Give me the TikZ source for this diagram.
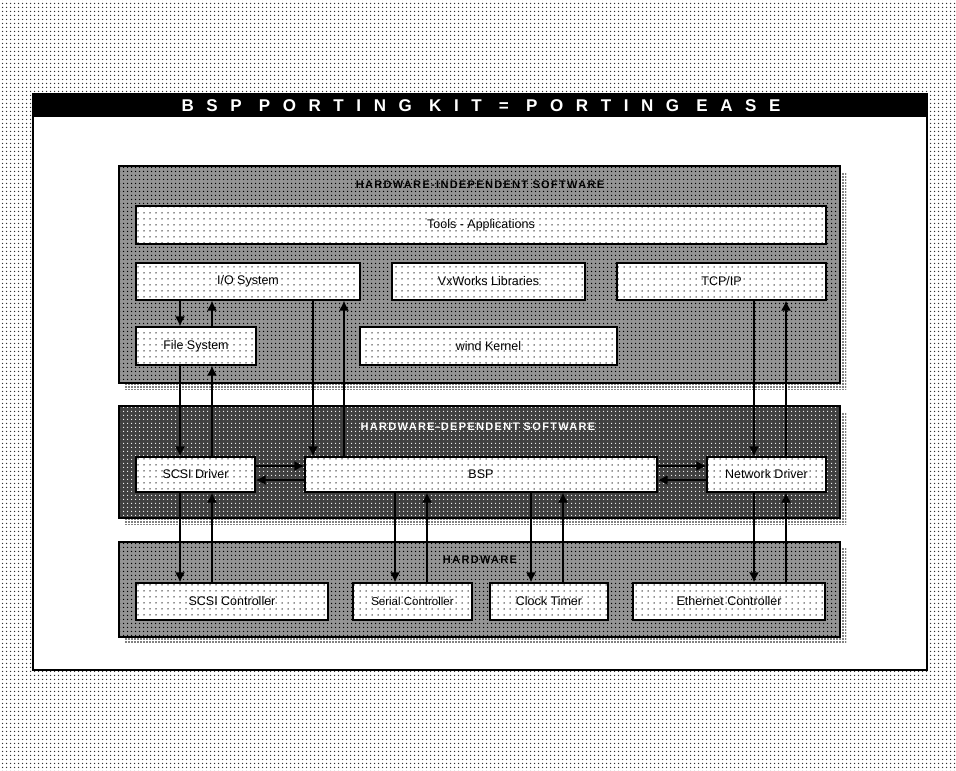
\documentclass[tikz,border=0pt]{standalone}
\usepackage{fontspec}
\setmainfont{Liberation Sans}
\usetikzlibrary{arrows.meta,patterns.meta,fit}
\begin{document}
\begin{tikzpicture}[x=1pt,y=-1pt,
  grp/.style={draw=black, line width=1.4pt, inner sep=0pt, preaction={fill=black!42}, pattern={Dots[distance=4pt,radius=0.9pt]}, pattern color=black},
  grpdark/.style={draw=black, line width=1.4pt, inner sep=0pt, preaction={fill=black!75}, pattern={Dots[distance=4pt,radius=0.8pt]}, pattern color=white},
  shad/.style={pattern={Dots[distance=3pt,radius=0.85pt]}, pattern color=black},
  ibox/.style={draw=black, line width=1.4pt, inner sep=0pt, preaction={fill=white}, pattern={Dots[distance=6pt,radius=0.75pt]}, pattern color=black!85, font=\fontsize{12.5}{14}\selectfont},
  glbl/.style={font=\fontsize{11}{12}\selectfont\bfseries\addfontfeature{LetterSpace=12}},
  arr/.style={line width=1.4pt, -{Latex[length=10pt,width=10pt]}}
]
% background
\path[use as bounding box] (0,0) rectangle (956,771);
\path[pattern={Dots[distance=4pt,radius=0.9pt]}, pattern color=black!80] (0,0) rectangle (956,771);
% frame and title
\node[fit={(33,94)(927,670)}, inner sep=0pt, draw=black, line width=1.4pt, fill=white] (frame) {};
\node[fit={(33,94)(927,117)}, inner sep=0pt, fill=black] (titlebar) {};
\node[text=white, font=\fontsize{17}{19}\selectfont\bfseries\addfontfeature{LetterSpace=74}] (title) at (481,106) {BSP PORTING KIT = PORTING EASE};
% shadows
\path[shad] (125,172) rectangle (846,389);
\path[shad] (125,412) rectangle (846,524);
\path[shad] (125,548) rectangle (846,643);
% groups
\node[grp, fit={(119,166)(840,383)}] (gi) {};
\node[grpdark, fit={(119,406)(840,518)}] (gd) {};
\node[grp, fit={(119,542)(840,637)}] (gh) {};
\node[glbl] (gilbl) at (480,185) {HARDWARE-INDEPENDENT SOFTWARE};
\node[glbl, text=white] (gdlbl) at (478,427) {HARDWARE-DEPENDENT SOFTWARE};
\node[glbl] (ghlbl) at (480,560) {HARDWARE};
% boxes
\node[ibox, minimum width=690, minimum height=38] (tools) at (481,225) {Tools - Applications};
\node[ibox, minimum width=224, minimum height=37] (io) at (248,281.5) {I/O System};
\node[ibox, minimum width=193, minimum height=37] (vx) at (488.5,281.5) {VxWorks Libraries};
\node[ibox, minimum width=209, minimum height=37] (tcp) at (721.5,281.5) {TCP/IP};
\node[ibox, minimum width=120, minimum height=38] (fs) at (196,346) {File System};
\node[ibox, minimum width=257, minimum height=38] (wk) at (488.5,346) {wind Kernel};
\node[ibox, minimum width=119, minimum height=35] (scsi) at (195.5,474.5) {SCSI Driver};
\node[ibox, minimum width=352, minimum height=35] (bsp) at (481,474.5) {BSP};
\node[ibox, minimum width=119, minimum height=35] (net) at (766.5,474.5) {Network Driver};
\node[ibox, minimum width=192, minimum height=37] (scsic) at (232,601.5) {SCSI Controller};
\node[ibox, minimum width=119, minimum height=37, font=\fontsize{11.5}{13}\selectfont] (ser) at (412.5,601.5) {Serial Controller};
\node[ibox, minimum width=118, minimum height=37] (clk) at (549,601.5) {Clock Timer};
\node[ibox, minimum width=192, minimum height=37] (eth) at (729,601.5) {Ethernet Controller};
% columns
\coordinate (c1) at (180,0);
\coordinate (c2) at (212,0);
\coordinate (c3) at (313,0);
\coordinate (c4) at (344,0);
\coordinate (c5) at (754,0);
\coordinate (c6) at (786,0);
\coordinate (c7) at (395,0);
\coordinate (c8) at (427,0);
\coordinate (c9) at (531,0);
\coordinate (c10) at (563,0);
\coordinate (ya) at (0,466);
\coordinate (yb) at (0,480);
% connectors
\draw[arr] (io.south -| c1) -- (fs.north -| c1);
\draw[arr] (fs.north -| c2) -- (io.south -| c2);
\draw[arr] (fs.south -| c1) -- (scsi.north -| c1);
\draw[arr] (scsi.north -| c2) -- (fs.south -| c2);
\draw[arr] (io.south -| c3) -- (bsp.north -| c3);
\draw[arr] (bsp.north -| c4) -- (io.south -| c4);
\draw[arr] (tcp.south -| c5) -- (net.north -| c5);
\draw[arr] (net.north -| c6) -- (tcp.south -| c6);
\draw[arr] (scsi.south -| c1) -- (scsic.north -| c1);
\draw[arr] (scsic.north -| c2) -- (scsi.south -| c2);
\draw[arr] (bsp.south -| c7) -- (ser.north -| c7);
\draw[arr] (ser.north -| c8) -- (bsp.south -| c8);
\draw[arr] (bsp.south -| c9) -- (clk.north -| c9);
\draw[arr] (clk.north -| c10) -- (bsp.south -| c10);
\draw[arr] (net.south -| c5) -- (eth.north -| c5);
\draw[arr] (eth.north -| c6) -- (net.south -| c6);
\draw[arr] (scsi.east |- ya) -- (bsp.west |- ya);
\draw[arr] (bsp.west |- yb) -- (scsi.east |- yb);
\draw[arr] (bsp.east |- ya) -- (net.west |- ya);
\draw[arr] (net.west |- yb) -- (bsp.east |- yb);
\end{tikzpicture}
\end{document}
